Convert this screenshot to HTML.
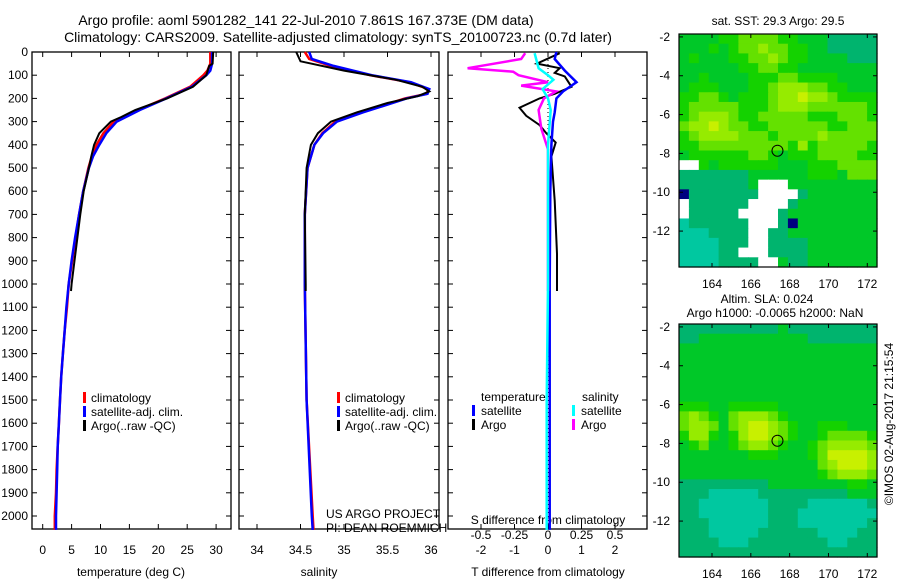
<!DOCTYPE html>
<html><head><meta charset="utf-8">
<style>
html,body{margin:0;padding:0;background:#fff;width:900px;height:580px;overflow:hidden}
svg{display:block;font-family:"Liberation Sans",sans-serif}
</style></head>
<body>
<svg id="c" width="900" height="580" xmlns="http://www.w3.org/2000/svg"></svg>
<script>
// ---------- data ----------
const tClimDepth = [0,50,80,100,150,200,250,280,300,350,400,450,500,600,700,800,900,1000,1100,1200,1300,1400,1500,1600,1700,1800,1900,2000,2060];
const tClim      = [29.0,29.0,28.5,27.8,25.5,21.2,16.5,14.0,12.3,10.5,9.3,8.5,7.9,7.0,6.3,5.7,5.1,4.5,4.2,3.8,3.5,3.2,3.0,2.8,2.6,2.4,2.3,2.1,2.1];
const tSat       = [29.3,29.3,29.0,28.3,25.8,21.4,16.8,14.4,12.8,11.0,9.8,8.7,8.0,7.0,6.3,5.6,5.0,4.5,4.1,3.8,3.5,3.2,3.0,2.8,2.6,2.5,2.4,2.3,2.3];
const tArgoDepth = [0,50,60,100,150,200,250,280,300,350,400,450,500,600,700,800,900,1000,1030];
const tArgo      = [29.5,29.4,28.8,28.3,26.0,21.5,16.0,13.6,11.8,9.8,8.9,8.4,8.0,7.1,6.5,6.0,5.5,5.0,4.9];
const sClimDepth = [0,30,60,100,130,160,180,200,230,260,300,350,400,500,700,1000,1500,2000,2060];
const sClim      = [34.55,34.6,34.85,35.3,35.75,35.97,35.95,35.7,35.45,35.2,34.9,34.75,34.66,34.58,34.55,34.55,34.57,34.64,34.65];
const sSat       = [34.6,34.63,34.88,35.32,35.77,35.98,35.96,35.72,35.47,35.22,34.92,34.76,34.66,34.58,34.55,34.55,34.57,34.63,34.64];
const sArgoDepth = [0,40,80,120,150,170,190,220,260,300,350,400,500,700,1000,1030];
const sArgo      = [34.45,34.5,35.0,35.6,35.9,35.98,35.85,35.5,35.15,34.85,34.7,34.62,34.57,34.55,34.56,34.56];
const dTSatDepth = [0,30,80,130,170,200,260,300,400,600,1000,2060];
const dTSat      = [0.25,0.2,0.5,0.85,0.45,0.25,0.2,0.15,0.1,0.07,0.05,0.05];
const dTArgoDepth= [5,50,70,90,105,150,180,200,240,275,315,350,390,450,640,870,1030];
const dTArgo     = [0.35,-0.33,0.35,0.2,0.5,0.7,0.2,-0.25,-0.85,-0.65,-0.25,-0.05,0.23,0.1,0.2,0.27,0.27];
const dSArgoDepth= [5,30,70,85,100,130,145,170,200,250,330,420,700,1030];
const dSArgo     = [-0.17,-0.2,-0.6,-0.26,-0.22,0.0,-0.2,0.06,-0.03,-0.07,-0.05,0.0,0.0,0.0];
const dSSatDepth = [5,70,100,120,160,200,250,400,1000,1500,2060];
const dSSat      = [-0.1,-0.07,0.0,0.04,-0.04,0.0,0.02,0.0,0.0,-0.01,-0.01];
const depthTicks = [0,100,200,300,400,500,600,700,800,900,1000,1100,1200,1300,1400,1500,1600,1700,1800,1900,2000];
const tempTicks  = [0,5,10,15,20,25,30];
const salTicks   = [34,34.5,35,35.5,36];
const salTickLabels = ["34","34.5","35","35.5","36"];
const dTTicks    = [-2,-1,0,1,2];
const dSTicks    = [-0.5,-0.25,0,0.25,0.5];
const dSTickLabels = ["-0.5","-0.25","0","0.25","0.5"];
const lonTicks   = [164,166,168,170,172];
const latTicks   = [-2,-4,-6,-8,-10,-12];
const sstGrid = [
"22223344443322211111","22232344544332211111","23222334454332222111","22222233443322222222",
"22322223334433332222","23332223345554433222","33443233345565543333","34444433345554444443",
"34555433444443334443","45565443344444433444","34555544434444544444","33444444444353444443",
"23333334432333444433","WW323333332223334444","11111112222223332444","11111112WWW222222222",
"B1111111WWWW12222222","W111111WWWW122222222","W11111WWWW1222222222","0111111WWW1B22222222",
"0001111WW11222222222","0000111WW11112222222","000011WWW11112222222","00001111WW2112222222"];
const slaGrid = [
"11111111112111111111","11222222222221111111","22222222222222222222","22222222222222222222",
"22222222222222222222","22222222222222222222","22222222222222222222","22222222222222222222",
"33322333332222222222","45432455543222222222","45542456654322333222","35532356654322344443",
"23422345543223455554","22222223332223466665","22222222222222456665","22222222222222345554",
"11111111122222222332","11100000111111111222","11000000011110000001","11000000011100000000",
"11100000011100000001","11100000111111000011","11110001111111100111","11111111111111111111"];
const argoLon = 167.373, argoLat = -7.861;

// ---------- helpers ----------
const NS="http://www.w3.org/2000/svg";
const svg=document.getElementById('c');
function mk(tag,attrs,parent){const e=document.createElementNS(NS,tag);for(const k in attrs)e.setAttribute(k,attrs[k]);(parent||svg).appendChild(e);return e;}
function txt(s,x,y,anchor,size,parent,rot){const e=mk('text',{x:x,y:y,'text-anchor':anchor||'start','font-size':size||12,fill:'#000'},parent);if(rot)e.setAttribute('transform',rot);e.textContent=s;return e;}
const Y0=52, PXD=0.232;
function yD(d){return Y0+d*PXD;}
const xT=v=>42.7+v*5.78;
const xS=v=>257+(v-34)*87;
const xDT=v=>548+v*33.5;
const xDS=v=>548+v*134;
function line(xs,ds,xf,color,w,name){
  const p=xs.map((v,i)=>xf(v).toFixed(1)+','+yD(ds[i]).toFixed(1)).join(' ');
  const e=mk('polyline',{points:p,fill:'none',stroke:color,'stroke-width':w,'stroke-linejoin':'miter'});
  
  
}
function panel(x0,x1,name){
  const g=mk('g',{});
  
  
  mk('rect',{x:x0,y:Y0,width:x1-x0,height:529-Y0,fill:'none',stroke:'#000','stroke-width':1.3},g);
  depthTicks.forEach(d=>{mk('line',{x1:x0,x2:x0+5,y1:yD(d),y2:yD(d),stroke:'#000'},g);mk('line',{x1:x1,x2:x1-5,y1:yD(d),y2:yD(d),stroke:'#000'},g);});
  return g;
}
// ---------- titles ----------
const t1=txt("Argo profile: aoml 5901282_141 22-Jul-2010 7.861S 167.373E (DM data)",306,25,'middle',14);

const t2=txt("Climatology: CARS2009. Satellite-adjusted climatology: synTS_20100723.nc (0.7d later)",338,42,'middle',14);


// ---------- panel 1: temperature ----------
const g1=panel(32,231,'temperature-panel');
depthTicks.forEach(d=>{const e=txt(String(d),28,yD(d)+4,'end',12,g1);});
tempTicks.forEach(v=>{mk('line',{x1:xT(v),x2:xT(v),y1:529,y2:524,stroke:'#000'},g1);mk('line',{x1:xT(v),x2:xT(v),y1:Y0,y2:Y0+5,stroke:'#000'},g1);txt(String(v),xT(v),554,'middle',12,g1);});
const xl1=txt("temperature (deg C)",131,576,'middle',12);
line(tClim,tClimDepth,xT,'#f00',2.5,'temperature-climatology-line');
line(tSat,tClimDepth,xT,'#00f',2.5,'temperature-satellite-line');
line(tArgo,tArgoDepth,xT,'#000',2,'temperature-argo-line');
function legend3(x,y,items,name){
  const g=mk('g',{});
  items.forEach((it,i)=>{mk('rect',{x:x,y:y+i*14-6,width:3,height:11,fill:it[0]},g);txt(it[1],x+8,y+i*14+4,'start',12,g);});
}
legend3(83,398,[['#f00','climatology'],['#00f','satellite-adj. clim.'],['#000','Argo(..raw -QC)']],'temperature-legend');

// ---------- panel 2: salinity ----------
const g2=panel(239,439,'salinity-panel');
salTicks.forEach((v,i)=>{mk('line',{x1:xS(v),x2:xS(v),y1:529,y2:524,stroke:'#000'},g2);mk('line',{x1:xS(v),x2:xS(v),y1:Y0,y2:Y0+5,stroke:'#000'},g2);txt(salTickLabels[i],xS(v),554,'middle',12,g2);});
const xl2=txt("salinity",319,576,'middle',12);
line(sClim,sClimDepth,xS,'#f00',2.5,'salinity-climatology-line');
line(sSat,sClimDepth,xS,'#00f',2.5,'salinity-satellite-line');
line(sArgo,sArgoDepth,xS,'#000',2,'salinity-argo-line');
legend3(337,398,[['#f00','climatology'],['#00f','satellite-adj. clim.'],['#000','Argo(..raw -QC)']],'salinity-legend');
const cr=mk('g',{});
txt("US ARGO PROJECT",326,518,'start',12,cr);txt("PI: DEAN ROEMMICH",326,532,'start',12,cr);

// ---------- panel 3: differences ----------
const g3=panel(448,647,'difference-panel');
dTTicks.forEach(v=>{mk('line',{x1:xDT(v),x2:xDT(v),y1:529,y2:524,stroke:'#000'},g3);mk('line',{x1:xDT(v),x2:xDT(v),y1:Y0,y2:Y0+5,stroke:'#000'},g3);txt(String(v),xDT(v),554,'middle',12,g3);});
dSTicks.forEach((v,i)=>{txt(dSTickLabels[i],xDS(v),539,'middle',12,g3);});
txt("S difference from climatology",548,524,'middle',12,g3);
const xl3=txt("T difference from climatology",548,576,'middle',12);
mk('line',{x1:548,x2:548,y1:Y0,y2:529,stroke:'#000','stroke-dasharray':'1,3'},g3);
line(dTArgo,dTArgoDepth,xDT,'#000',2,'t-diff-argo-line');
line(dTSat,dTSatDepth,xDT,'#00f',2.5,'t-diff-satellite-line');
line(dSArgo,dSArgoDepth,xDS,'#f0f',2.5,'s-diff-argo-line');
line(dSSat,dSSatDepth,xDS,'#0ff',2.5,'s-diff-satellite-line');
const lg3=mk('g',{});
txt("temperature",481,401,'start',12,lg3);txt("salinity",582,401,'start',12,lg3);
[['#00f','satellite',472],['#000','Argo',472],['#0ff','satellite',572],['#f0f','Argo',572]].forEach((it,i)=>{const r=i%2;mk('rect',{x:it[2],y:405+r*14,width:3,height:11,fill:it[0]},lg3);txt(it[1],it[2]+9,415+r*14,'start',12,lg3);});

// ---------- maps ----------
const palette={'0':'#00c8a0','1':'#00b46e','2':'#00c828','3':'#14d200','4':'#64e100','5':'#96eb00','6':'#c8f000','W':'#ffffff','B':'#000080'};
const LON0=162.3,LON1=172.5,LAT0=-1.85,LAT1=-13.85;
function drawMap(y0,grid,title,name){
  const x0=679,x1=877,y1=y0+233;
  const g=mk('g',{});
  const lx=v=>x0+(v-LON0)/(LON1-LON0)*(x1-x0);
  const ly=v=>y0+(LAT0-v)/(LAT0-LAT1)*(y1-y0);
  const rows=grid.length,cols=grid[0].length,cw=(x1-x0)/cols,ch=(y1-y0)/rows;
  grid.forEach((row,r)=>{for(let c=0;c<cols;c++){mk('rect',{x:(x0+c*cw).toFixed(2),y:(y0+r*ch).toFixed(2),width:(cw+0.6).toFixed(2),height:(ch+0.6).toFixed(2),fill:palette[row[c]]},g);}});
  mk('rect',{x:x0,y:y0,width:x1-x0,height:y1-y0,fill:'none',stroke:'#000','stroke-width':1.2},g);
  lonTicks.forEach(v=>{mk('line',{x1:lx(v),x2:lx(v),y1:y1,y2:y1-4,stroke:'#000'},g);mk('line',{x1:lx(v),x2:lx(v),y1:y0,y2:y0+4,stroke:'#000'},g);txt(String(v),lx(v),y1+21,'middle',12,g);});
  latTicks.forEach(v=>{mk('line',{x1:x0,x2:x0+4,y1:ly(v),y2:ly(v),stroke:'#000'},g);mk('line',{x1:x1,x2:x1-4,y1:ly(v),y2:ly(v),stroke:'#000'},g);txt(String(v),x0-9,ly(v)+4,'end',12,g);});
  const c=mk('circle',{cx:lx(argoLon),cy:ly(argoLat),r:5.5,fill:'none',stroke:'#000','stroke-width':1},g);
  
  return g;
}
drawMap(34,sstGrid,'','sst-map');
const st=txt("sat. SST: 29.3 Argo: 29.5",778,25,'middle',12);
drawMap(324,slaGrid,'','sla-map');
const sa=txt("Altim. SLA: 0.024",767,303,'middle',12);
const sb=txt("Argo h1000: -0.0065 h2000: NaN",775,317,'middle',12);
const cp=txt("©IMOS 02-Aug-2017 21:15:54",0,0,'middle',12,null,'translate(893,424) rotate(-90)');

</script>
</body></html>
